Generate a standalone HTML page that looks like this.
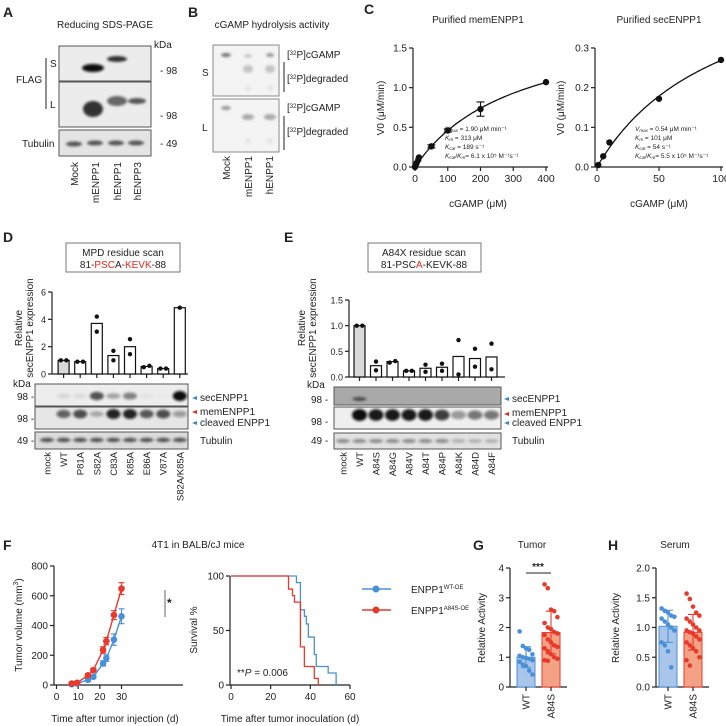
<!DOCTYPE html>
<html><head><meta charset="utf-8"><style>
html,body{margin:0;padding:0;background:#fff}
svg{display:block;font-family:"Liberation Sans",Arial,sans-serif}
</style></head><body>
<svg id="fig" width="726" height="726" viewBox="0 0 726 726" xmlns="http://www.w3.org/2000/svg">
<defs>
<filter id="blur1" x="-50%" y="-50%" width="200%" height="200%"><feGaussianBlur stdDeviation="1.2"/></filter>
<filter id="blur2" x="-50%" y="-50%" width="200%" height="200%"><feGaussianBlur stdDeviation="2.2"/></filter>
</defs>
<g font-size="10" fill="#222">
<!-- Panel A -->
<text x="3" y="17" font-size="14" font-weight="bold">A</text>
<text x="105" y="28" text-anchor="middle">Reducing SDS-PAGE</text>
<text x="154" y="48">kDa</text>
<rect x="59" y="46" width="92" height="35" fill="#ececec" stroke="#555"/>
<rect x="59" y="82" width="92" height="45" fill="#ececec" stroke="#555"/>
<rect x="59" y="130" width="92" height="26" fill="#e4e4e4" stroke="#555"/>
<g filter="url(#blur1)">
<ellipse cx="93" cy="68" rx="11" ry="4" fill="#111"/>
<ellipse cx="117" cy="59" rx="10" ry="3" fill="#333"/>
<ellipse cx="93" cy="109" rx="10" ry="8" fill="#333"/>
<ellipse cx="117" cy="101" rx="10" ry="5" fill="#666"/>
<ellipse cx="137" cy="101" rx="9" ry="3" fill="#555"/>
<ellipse cx="74" cy="144" rx="8" ry="2.5" fill="#555"/>
<ellipse cx="95" cy="143" rx="8" ry="2.5" fill="#555"/>
<ellipse cx="116" cy="143" rx="8" ry="2.5" fill="#555"/>
<ellipse cx="136" cy="143" rx="8" ry="2.5" fill="#555"/>
</g>
<text x="160" y="74">- 98</text>
<text x="160" y="119">- 98</text>
<text x="160" y="147">- 49</text>
<text x="16" y="83">FLAG</text>
<line x1="46" y1="58" x2="46" y2="109" stroke="#222"/>
<text x="50" y="67">S</text>
<text x="50" y="108">L</text>
<text x="22" y="147">Tubulin</text>
<text transform="translate(78,162) rotate(-90)" text-anchor="end">Mock</text>
<text transform="translate(99,162) rotate(-90)" text-anchor="end">mENPP1</text>
<text transform="translate(121,162) rotate(-90)" text-anchor="end">hENPP1</text>
<text transform="translate(141,162) rotate(-90)" text-anchor="end">hENPP3</text>

<!-- Panel B -->
<text x="188" y="17" font-size="14" font-weight="bold">B</text>
<text x="272" y="28" text-anchor="middle">cGAMP hydrolysis activity</text>
<rect x="213" y="45" width="66" height="51" fill="#f4f4f4" stroke="#888"/>
<rect x="213" y="99" width="66" height="53" fill="#f4f4f4" stroke="#888"/>
<g filter="url(#blur1)">
<ellipse cx="226" cy="55" rx="5" ry="2" fill="#777"/>
<ellipse cx="248" cy="56" rx="4" ry="1.5" fill="#bbb"/>
<ellipse cx="270" cy="55" rx="4" ry="2" fill="#999"/>
<ellipse cx="248" cy="69" rx="5" ry="4" fill="#c4c4c4"/>
<ellipse cx="270" cy="69" rx="5" ry="4" fill="#c4c4c4"/>
<ellipse cx="248" cy="88" rx="3" ry="3" fill="#e4e4e4"/>
<ellipse cx="270" cy="88" rx="3" ry="3" fill="#e4e4e4"/>
<ellipse cx="226" cy="108" rx="5" ry="2" fill="#999"/>
<ellipse cx="248" cy="117" rx="6" ry="3" fill="#aaa"/>
<ellipse cx="270" cy="117" rx="6" ry="3" fill="#aaa"/>
<ellipse cx="248" cy="141" rx="3" ry="3" fill="#e4e4e4"/>
<ellipse cx="270" cy="141" rx="3" ry="3" fill="#e4e4e4"/>
</g>
<text x="287" y="58">[<tspan font-size="6" dy="-3">32</tspan><tspan dy="3">P]cGAMP</tspan></text>
<text x="287" y="82">[<tspan font-size="6" dy="-3">32</tspan><tspan dy="3">P]degraded</tspan></text>
<text x="287" y="111">[<tspan font-size="6" dy="-3">32</tspan><tspan dy="3">P]cGAMP</tspan></text>
<text x="287" y="135">[<tspan font-size="6" dy="-3">32</tspan><tspan dy="3">P]degraded</tspan></text>
<line x1="284" y1="62" x2="284" y2="92" stroke="#222"/>
<line x1="284" y1="116" x2="284" y2="150" stroke="#222"/>
<text x="202" y="76">S</text>
<text x="202" y="131">L</text>
<text transform="translate(230,156) rotate(-90)" text-anchor="end">Mock</text>
<text transform="translate(252,156) rotate(-90)" text-anchor="end">mENPP1</text>
<text transform="translate(273,156) rotate(-90)" text-anchor="end">hENPP1</text>

<!-- Panel C -->
<text x="364" y="14" font-size="14" font-weight="bold">C</text>
<text x="478" y="23" text-anchor="middle">Purified memENPP1</text>
<text x="659" y="23" text-anchor="middle">Purified secENPP1</text>
<g font-size="6.5">
<text x="445" y="131"><tspan font-style="italic">V</tspan><tspan font-size="4.5" dy="1" font-style="italic">max</tspan><tspan dy="-1"> = 1.90 μM min⁻¹</tspan></text>
<text x="445" y="140"><tspan font-style="italic">K</tspan><tspan font-size="4.5" dy="1" font-style="italic">m</tspan><tspan dy="-1"> = 313 μM</tspan></text>
<text x="445" y="149"><tspan font-style="italic">K</tspan><tspan font-size="4.5" dy="1" font-style="italic">cat</tspan><tspan dy="-1"> = 189 s⁻¹</tspan></text>
<text x="445" y="158"><tspan font-style="italic">K</tspan><tspan font-size="4.5" dy="1" font-style="italic">cat</tspan><tspan dy="-1">/</tspan><tspan font-style="italic">K</tspan><tspan font-size="4.5" dy="1" font-style="italic">m</tspan><tspan dy="-1">= 6.1 x 10⁵ M⁻¹s⁻¹</tspan></text>
</g>
<g font-size="6.5">
<text x="635" y="131"><tspan font-style="italic">V</tspan><tspan font-size="4.5" dy="1" font-style="italic">max</tspan><tspan dy="-1"> = 0.54 μM min⁻¹</tspan></text>
<text x="635" y="140"><tspan font-style="italic">K</tspan><tspan font-size="4.5" dy="1" font-style="italic">m</tspan><tspan dy="-1"> = 101 μM</tspan></text>
<text x="635" y="149"><tspan font-style="italic">K</tspan><tspan font-size="4.5" dy="1" font-style="italic">cat</tspan><tspan dy="-1"> = 54 s⁻¹</tspan></text>
<text x="635" y="158"><tspan font-style="italic">K</tspan><tspan font-size="4.5" dy="1" font-style="italic">cat</tspan><tspan dy="-1">/</tspan><tspan font-style="italic">K</tspan><tspan font-size="4.5" dy="1" font-style="italic">m</tspan><tspan dy="-1">= 5.5 x 10⁵ M⁻¹s⁻¹</tspan></text>
</g>
<text x="478" y="207" text-anchor="middle">cGAMP (μM)</text>
<text x="659" y="207" text-anchor="middle">cGAMP (μM)</text>
<text transform="translate(384,108) rotate(-90)" text-anchor="middle">V0 (μM/min)</text>
<text transform="translate(564,108) rotate(-90)" text-anchor="middle">V0 (μM/min)</text>

<!-- Panel D -->
<text x="3" y="242" font-size="14" font-weight="bold">D</text>
<rect x="66" y="243" width="114" height="29" fill="#fff" stroke="#777"/>
<text x="123" y="256" text-anchor="middle">MPD residue scan</text>
<text x="123" y="268" text-anchor="middle">81-<tspan fill="#e8261c">PSC</tspan>A-<tspan fill="#e8261c">KEVK</tspan>-88</text>
<text transform="translate(22,328) rotate(-90)" text-anchor="middle">Relative</text>
<text transform="translate(33,328) rotate(-90)" text-anchor="middle">secENPP1 expression</text>
<rect x="35" y="384" width="153" height="22" fill="#ededed" stroke="#555"/>
<rect x="35" y="407" width="153" height="22" fill="#e6e6e6" stroke="#555"/>
<rect x="35" y="432" width="153" height="17" fill="#dcdcdc" stroke="#555"/>
<g id="dBands" filter="url(#blur1)"></g>
<text x="13" y="387">kDa</text>
<text x="17" y="400">98 -</text>
<text x="17" y="422">98 -</text>
<text x="17" y="444">49 -</text>
<polygon points="192,398 197,396 197,400" fill="#3a86d4"/>
<polygon points="192,412 197,410 197,414" fill="#e8261c"/>
<polygon points="192,423 197,421 197,425" fill="#3a86d4"/>
<text x="200" y="401">secENPP1</text>
<text x="200" y="415">memENPP1</text>
<text x="200" y="426">cleaved ENPP1</text>
<text x="200" y="444">Tubulin</text>

<!-- Panel E -->
<text x="284" y="242" font-size="14" font-weight="bold">E</text>
<rect x="368" y="243" width="113" height="29" fill="#fff" stroke="#777"/>
<text x="424" y="256" text-anchor="middle">A84X residue scan</text>
<text x="424" y="268" text-anchor="middle">81-PSC<tspan fill="#e8261c">A</tspan>-KEVK-88</text>
<text transform="translate(305,328) rotate(-90)" text-anchor="middle">Relative</text>
<text transform="translate(316,328) rotate(-90)" text-anchor="middle">secENPP1 expression</text>
<rect x="334" y="387" width="167" height="18" fill="#a9a9a9" stroke="#555"/>
<rect x="334" y="407" width="167" height="22" fill="#efefef" stroke="#555"/>
<rect x="334" y="433" width="167" height="16" fill="#e2e2e2" stroke="#555"/>
<g id="eBands" filter="url(#blur1)"></g>
<text x="307" y="388">kDa</text>
<text x="311" y="403">98 -</text>
<text x="311" y="425">98 -</text>
<text x="311" y="444">49 -</text>
<polygon points="504,399 509,397 509,401" fill="#3a86d4"/>
<polygon points="504,414 509,412 509,416" fill="#e8261c"/>
<polygon points="504,423 509,421 509,425" fill="#3a86d4"/>
<text x="512" y="402">secENPP1</text>
<text x="512" y="416">memENPP1</text>
<text x="512" y="426">cleaved ENPP1</text>
<text x="512" y="444">Tubulin</text>

<!-- Panel F -->
<text x="3" y="550" font-size="14" font-weight="bold">F</text>
<text x="198" y="548" text-anchor="middle">4T1 in BALB/cJ mice</text>
<text x="115" y="722" text-anchor="middle">Time after tumor injection (d)</text>
<text transform="translate(22,625) rotate(-90)" text-anchor="middle">Tumor volume (mm<tspan font-size="7" dy="-4">3</tspan><tspan dy="4">)</tspan></text>
<text x="290" y="722" text-anchor="middle">Time after tumor inoculation (d)</text>
<text transform="translate(197,630) rotate(-90)" text-anchor="middle">Survival %</text>
<text x="237" y="676">**<tspan font-style="italic">P</tspan> = 0.006</text>
<line x1="165" y1="590" x2="165" y2="617" stroke="#999" stroke-width="1.5"/>
<text x="167" y="607" font-size="12" font-weight="bold">*</text>
<g>
<line x1="362" y1="589" x2="391" y2="589" stroke="#4a90d9" stroke-width="1.5"/>
<circle cx="376" cy="589" r="3.5" fill="#4a90d9"/>
<text x="411" y="593">ENPP1<tspan font-size="6" dy="-4">WT-OE</tspan></text>
</g>
<g>
<line x1="362" y1="610" x2="391" y2="610" stroke="#e8392b" stroke-width="1.5"/>
<circle cx="376" cy="610" r="3.5" fill="#e8392b"/>
<text x="411" y="614">ENPP1<tspan font-size="6" dy="-4">A84S-OE</tspan></text>
</g>

<!-- Panel G/H -->
<text x="473" y="550" font-size="14" font-weight="bold">G</text>
<text x="532" y="548" text-anchor="middle">Tumor</text>
<text transform="translate(485,628) rotate(-90)" text-anchor="middle">Relative Activity</text>
<line x1="526" y1="573" x2="551" y2="573" stroke="#222"/>
<text x="538" y="570" text-anchor="middle" font-size="10" font-weight="bold">***</text>
<text x="608" y="550" font-size="14" font-weight="bold">H</text>
<text x="675" y="548" text-anchor="middle">Serum</text>
<text transform="translate(619,628) rotate(-90)" text-anchor="middle">Relative Activity</text>
</g>
<g id="charts" font-size="10" fill="#222"></g>
</svg>
<script>
// ---- Data ----
// Panel C
const cLeftX = [0, 2, 5, 10, 12, 50, 100, 200, 400];
const cLeftY = [0, 0.02, 0.05, 0.09, 0.12, 0.26, 0.46, 0.73, 1.07];
const cLeftErr = [0, 0, 0, 0, 0, 0.02, 0.02, 0.09, 0.01];
const cLeftFit = [1.90, 313];
const cRightX = [1, 5, 10, 50, 100];
const cRightY = [0.005, 0.027, 0.062, 0.172, 0.27];
const cRightErr = [0, 0, 0, 0.01, 0.005];
const cRightFit = [0.54, 101];
// Panel D
const dCats = ["WT","P81A","S82A","C83A","K85A","E86A","V87A","S82A/K85A"];
const dMeans = [1.0, 0.9, 3.7, 1.35, 2.0, 0.55, 0.4, 4.85];
const dRep1 = [1.0, 0.9, 4.2, 1.7, 2.55, 0.5, 0.4, 4.85];
const dRep2 = [1.0, 0.9, 3.1, 1.0, 1.45, 0.6, 0.4, null];
const dTicks = [0, 2, 4, 6];
const dLanes = ["mock","WT","P81A","S82A","C83A","K85A","E86A","V87A","S82A/K85A"];
// Panel E
const eCats = ["WT","A84S","A84G","A84V","A84T","A84P","A84K","A84D","A84F"];
const eMeans = [1.0, 0.22, 0.3, 0.12, 0.17, 0.19, 0.4, 0.36, 0.39];
const eRep1 = [1.0, 0.3, 0.28, 0.12, 0.24, 0.26, 0.72, 0.55, 0.65];
const eRep2 = [1.0, 0.13, 0.31, 0.12, 0.1, 0.12, 0.05, 0.2, 0.15];
const eTicks = [0, 0.5, 1.0, 1.5];
const eTickLabels = ["0.0","0.5","1.0","1.5"];
const eLanes = ["mock","WT","A84S","A84G","A84V","A84T","A84P","A84K","A84D","A84F"];
// Panel F tumor growth
const fDays = [7, 9.5, 14.5, 17, 21.5, 23, 26.5, 30];
const fWT = [5, 10, 35, 55, 145, 180, 305, 462];
const fWTErr = [4, 5, 10, 10, 18, 22, 38, 50];
const fA84S = [10, 15, 65, 100, 235, 295, 470, 648];
const fA84SErr = [5, 6, 10, 12, 22, 25, 30, 40];
// Panel F survival (step times and survival %)
const survWTt = [0, 33, 35, 37, 38, 39, 42, 43, 49, 53];
const survWTs = [100, 94, 69, 63, 56, 44, 28, 17, 11, 0];
const survA84St = [0, 29, 31, 32, 35, 37, 42, 44];
const survA84Ss = [100, 88, 82, 76, 35, 17, 6, 0];
// Panel G
const gWT = [1.87,1.38,1.3,1.25,1.1,1.05,1.0,0.98,0.95,0.9,0.85,0.75,0.7,0.55,0.42];
const gA84S = [3.45,3.32,2.6,2.55,2.35,2.15,2.0,1.95,1.85,1.8,1.75,1.6,1.5,1.4,1.35,1.3,1.2,1.1,1.0,0.95,0.9,0.88];
const gMean = [1.0, 1.83];
const gSD = [0.35, 0.72];
// Panel H
const hWT = [1.32,1.28,1.25,1.2,1.18,1.15,1.1,1.05,1.0,0.95,0.75,0.7,0.6,0.33];
const hA84S = [1.57,1.48,1.35,1.25,1.2,1.15,1.1,1.05,1.0,0.95,0.95,0.92,0.9,0.85,0.8,0.75,0.7,0.65,0.6,0.5,0.45,0.36];
const hMean = [1.02, 0.92];
const hSD = [0.27, 0.3];

// ---- helpers ----
const NS = "http://www.w3.org/2000/svg";
const root = document.getElementById("charts");
function mk(tag, attrs, parent) {
  const e = document.createElementNS(NS, tag);
  for (const k in attrs) e.setAttribute(k, attrs[k]);
  (parent || root).appendChild(e);
  return e;
}
function lin(d0, d1, r0, r1) { return v => r0 + (v - d0) * (r1 - r0) / (d1 - d0); }
function yAxis(x, y0, y1, ticks, labels, ys, name, fs) {
  let a = mk("line", {x1: x, y1: y0, x2: x, y2: y1, stroke: "#222", "stroke-width": 1.2});
  
  
  ticks.forEach((t, i) => {
    let l = mk("line", {x1: x - 4, y1: ys(t), x2: x, y2: ys(t), stroke: "#222", "stroke-width": 1.2});
    
    
    let tx = mk("text", {x: x - 6, y: ys(t) + 3.5, "text-anchor": "end", "font-size": fs || 10});
    tx.textContent = labels[i];
    
    
  });
}
function xAxis(y, x0, x1, ticks, labels, xs, name, fs) {
  let a = mk("line", {x1: x0, y1: y, x2: x1, y2: y, stroke: "#222", "stroke-width": 1.2});
  
  
  ticks.forEach((t, i) => {
    let l = mk("line", {x1: xs(t), y1: y, x2: xs(t), y2: y + 4, stroke: "#222", "stroke-width": 1.2});
    
    
    if (labels) {
      let tx = mk("text", {x: xs(t), y: y + 15, "text-anchor": "middle", "font-size": fs || 10});
      tx.textContent = labels[i];
      
      
    }
  });
}
function dot(x, y, r, fill, name) {
  let c = mk("circle", {cx: x, cy: y, r: r, fill: fill});
  
  
  return c;
}
function errbar(x, yLo, yHi, w, col, name) {
  let p = mk("path", {d: `M${x-w},${yLo}H${x+w}M${x},${yLo}V${yHi}M${x-w},${yHi}H${x+w}`, stroke: col, fill: "none", "stroke-width": 1.1});
  
  
}

// ---- Panel C ----
function mmChart(X, Y, E, fit, xs, ys, xmax, name) {
  let d = "";
  for (let i = 0; i <= 100; i++) {
    const v = xmax * i / 100;
    const yy = fit[0] * v / (fit[1] + v);
    d += (i ? "L" : "M") + xs(v).toFixed(1) + "," + ys(yy).toFixed(1);
  }
  let c = mk("path", {d: d, stroke: "#111", fill: "none", "stroke-width": 1.3});
  
  
  X.forEach((x, i) => {
    if (E[i] > 0.015) errbar(xs(x), ys(Y[i] - E[i]), ys(Y[i] + E[i]), 4, "#111", name + '-error-bar');
    dot(xs(x), ys(Y[i]), 3.2, "#111", name + '-point');
  });
}
{
  const xs = lin(0, 400, 415, 546), ys = lin(0, 1.5, 167, 48);
  yAxis(413, 48, 167, [0, 0.5, 1, 1.5], ["0.0","0.5","1.0","1.5"], ys, "c-left");
  xAxis(167, 413, 548, [0,100,200,300,400], ["0","100","200","300","400"], xs, "c-left", 10.5);
  mmChart(cLeftX, cLeftY, cLeftErr, cLeftFit, xs, ys, 400, "c-left");
}
{
  const xs = lin(0, 100, 597, 721), ys = lin(0, 0.3, 167, 48);
  yAxis(595, 48, 167, [0, 0.1, 0.2, 0.3], ["0.0","0.1","0.2","0.3"], ys, "c-right");
  xAxis(167, 595, 723, [0,50,100], ["0","50","100"], xs, "c-right", 10.5);
  mmChart(cRightX, cRightY, cRightErr, cRightFit, xs, ys, 100, "c-right");
}

// ---- Panel D / E bar charts ----
function scanChart(cats, means, r1, r2, lanes, lane0, step, axisX, y0, y1, ymax, ticks, tlabels, name, xEnd) {
  const ys = lin(0, ymax, y0, y1);
  const lx = i => lane0 + step * (i + 1);
  yAxis(axisX, y1, y0, ticks, tlabels, ys, name, 9);
  let ax = mk("line", {x1: axisX, y1: y0, x2: xEnd, y2: y0, stroke: "#222", "stroke-width": 1.2});
  
  
  cats.forEach((c, i) => {
    const x = lx(i);
    let t = mk("line", {x1: x, y1: y0, x2: x, y2: y0 + 4, stroke: "#222", "stroke-width": 1.2});
    
    
    let b = mk("rect", {x: x - 5.5, y: ys(means[i]), width: 11, height: y0 - ys(means[i]), fill: i === 0 ? "#d9d9d9" : "#fff", stroke: "#111", "stroke-width": 1.2});
    
    
    const v2 = r2[i];
    if (v2 === null) dot(x, ys(r1[i]), 2.2, "#111", name + '-replicate-dot');
    else {
      const same = Math.abs(r1[i] - v2) < 0.04 * ymax;
      dot(same ? x - 2.8 : x, ys(r1[i]), 2.2, "#111", name + '-replicate-dot');
      dot(same ? x + 2.8 : x, ys(v2), 2.2, "#111", name + '-replicate-dot');
    }
  });
  lanes.forEach((l, i) => {
    let tx = mk("text", {transform: `translate(${lane0 + step * i + 3.5},452) rotate(-90)`, "text-anchor": "end", "font-size": 9.5});
    tx.textContent = l;
    
    
  });
}
scanChart(dCats, dMeans, dRep1, dRep2, dLanes, 47, 16.6, 52, 374, 292, 6, dTicks, ["0","2","4","6"], "d", 188);
scanChart(eCats, eMeans, eRep1, eRep2, eLanes, 343, 16.5, 349, 377, 300, 1.5, eTicks, eTickLabels, "e", 505);

// blot bands D
{
  const g = document.getElementById("dBands");
  const sec = [0, 0.1, 0.08, 0.7, 0.3, 0.5, 0.05, 0.02, 1.0];
  const mem = [0, 0.7, 0.8, 0.3, 1.0, 1.0, 0.75, 0.8, 0.4];
  dLanes.forEach((l, i) => {
    const x = 47 + 16.6 * i;
    if (sec[i] > 0) { let e = mk("ellipse", {cx: x, cy: 396, rx: 7, ry: 2 + 3 * sec[i], fill: "#111", opacity: sec[i]}, g);   }
    if (mem[i] > 0) { let e = mk("ellipse", {cx: x, cy: 414, rx: 7, ry: 2 + 3 * mem[i], fill: "#111", opacity: mem[i] * 0.9}, g);   }
    let t = mk("ellipse", {cx: x, cy: 440, rx: 7, ry: 2.2, fill: "#333", opacity: 0.8}, g);
    
    
  });
}
// blot bands E
{
  const g = document.getElementById("eBands");
  const mem = [0, 1.0, 0.95, 0.95, 0.95, 0.95, 0.8, 0.4, 0.55, 0.55];
  eLanes.forEach((l, i) => {
    const x = 343 + 16.5 * i;
    if (i === 1) { let e = mk("ellipse", {cx: x, cy: 399, rx: 7, ry: 2, fill: "#222", opacity: 0.7}, g);   }
    if (mem[i] > 0) { let e = mk("ellipse", {cx: x, cy: 415, rx: 7.5, ry: 3 + 3 * mem[i], fill: "#111", opacity: mem[i]}, g);   }
    let t = mk("ellipse", {cx: x, cy: 441, rx: 7, ry: 2, fill: "#666", opacity: i >= 7 ? 0.4 : 0.7}, g);
    
    
  });
}

// ---- Panel F tumor growth ----
{
  const xs = lin(0, 30, 56.5, 121.5), ys = lin(0, 800, 685, 566);
  yAxis(54, 566, 685, [0,200,400,600,800], ["0","200","400","600","800"], ys, "f-tumor");
  xAxis(685, 54, 183, [0,10,20,30], ["0","10","20","30"], xs, "f-tumor");
  function series(Y, E, col, name) {
    let d = fDays.map((t, i) => (i ? "L" : "M") + xs(t) + "," + ys(Y[i])).join("");
    let p = mk("path", {d: d, stroke: col, fill: "none", "stroke-width": 1.4});
    
    
    fDays.forEach((t, i) => {
      errbar(xs(t), ys(Y[i] - E[i]), ys(Y[i] + E[i]), 3, col, name + '-error-bar');
      dot(xs(t), ys(Y[i]), 3.3, col, name + '-point');
    });
  }
  series(fWT, fWTErr, "#4a90d9", "f-tumor-wt");
  series(fA84S, fA84SErr, "#e8392b", "f-tumor-a84s");
}
// ---- Panel F survival ----
{
  const xs = lin(0, 60, 231, 350), ys = lin(0, 100, 685, 576);
  yAxis(230, 576, 685, [0,50,100], ["0","50","100"], ys, "f-surv");
  xAxis(685, 230, 350, [0,20,40,60], ["0","20","40","60"], xs, "f-surv");
  function steps(T, S, col, name) {
    let d = "M" + xs(T[0]) + "," + ys(S[0]);
    for (let i = 1; i < T.length; i++) d += "H" + xs(T[i]) + "V" + ys(S[i]);
    let p = mk("path", {d: d, stroke: col, fill: "none", "stroke-width": 1.3});
    
    
  }
  steps(survWTt, survWTs, "#4a90d9", "f-surv-wt-curve");
  steps(survA84St, survA84Ss, "#e8392b", "f-surv-a84s-curve");
}
// ---- Panels G / H ----
function scatterBar(axisX, c0, c1, ymax, ticks, tlabels, wt, mut, mean, sd, name) {
  const ys = lin(0, ymax, 687, 568);
  yAxis(axisX, 568, 687, ticks, tlabels, ys, name);
  const cx = [c0, c1];
  let ax = mk("line", {x1: axisX, y1: 687, x2: c1 + 16, y2: 687, stroke: "#222", "stroke-width": 1.2});
  
  
  const fills = ["#a9c5ea", "#f4a285"], strokes = ["#4a90d9", "#e8392b"], labs = ["WT", "A84S"];
  [wt, mut].forEach((arr, k) => {
    let b = mk("rect", {x: cx[k] - 9, y: ys(mean[k]), width: 18, height: 687 - ys(mean[k]), fill: fills[k], stroke: strokes[k], "stroke-width": 1});
    
    
    arr.forEach((v, i) => {
      const off = ((i % 5) - 2) * 3.2;
      dot(cx[k] + off, ys(v), 2.3, strokes[k], name + '-dot-' + labs[k].toLowerCase());
    });
    errbar(cx[k], ys(mean[k] - sd[k]), ys(mean[k] + sd[k]), 5, strokes[k], name + '-sd-bar');
    let t = mk("line", {x1: cx[k], y1: 687, x2: cx[k], y2: 691, stroke: "#222", "stroke-width": 1.2});
    
    
    let tx = mk("text", {transform: `translate(${cx[k] + 3.5},694) rotate(-90)`, "text-anchor": "end"});
    tx.textContent = labs[k];
    
    
  });
}
scatterBar(510, 526, 551, 4, [0,1,2,3,4], ["0","1","2","3","4"], gWT, gA84S, gMean, gSD, "g");
scatterBar(656, 668, 693, 2, [0,0.5,1,1.5,2], ["0.0","0.5","1.0","1.5","2.0"], hWT, hA84S, hMean, hSD, "h");
</script>
</body></html>
